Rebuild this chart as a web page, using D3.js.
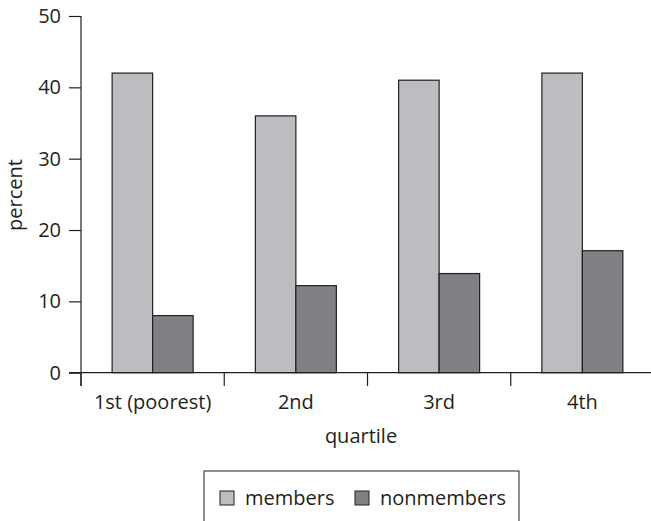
<!DOCTYPE html>
<html><head><meta charset="utf-8">
<script src="https://cdn.jsdelivr.net/npm/d3@7"></script>
<style>
body{margin:0;background:#fff;}
text{font-family:"Open Sans",sans-serif;fill:#231f20;}
</style></head>
<body><svg id="c" width="651" height="521"></svg>
<script>
const categories = ["1st (poorest)", "2nd", "3rd", "4th"];
const seriesNames = ["members", "nonmembers"];
const members = [42, 36, 41, 42];
const nonmembers = [8, 12.2, 13.9, 17.1];
const yTicks = [0, 10, 20, 30, 40, 50];
const colors = ["#bcbdc1", "#808184"];

const svg = d3.select("#c");
const ink = "#231f20";
const fs = "20px";
const x0 = d3.scaleBand().domain(categories).range([81, 654]).padding(0);
const x1 = d3.scaleBand().domain(seriesNames).range([0, 81]).padding(0);
const y = d3.scaleLinear().domain([0, 50]).range([372.7, 16]);

const data = categories.map((c, i) => ({cat: c, vals: [members[i], nonmembers[i]]}));

// bars
const g = svg.append("g");
data.forEach(d => {
  const cx = x0(d.cat) + x0.bandwidth() / 2 - 40.5;
  seriesNames.forEach((s, j) => {
    g.append("rect")
      .attr("x", cx + x1(s))
      .attr("y", y(d.vals[j]))
      .attr("width", x1.bandwidth())
      .attr("height", y(0) - y(d.vals[j]))
      .attr("fill", colors[j])
      .attr("stroke", ink).attr("stroke-width", 1.2);
  });
});

// y axis
const ya = svg.append("g").attr("transform", "translate(81,0)")
  .call(d3.axisLeft(y).tickValues(yTicks).tickSize(12).tickPadding(8).tickSizeOuter(0));
ya.select(".domain").attr("d", "M0,16V386").attr("stroke", ink).attr("stroke-width", 1.2);
ya.selectAll(".tick line").attr("stroke", ink).attr("stroke-width", 1.2);
ya.selectAll(".tick text").style("font-size", fs).attr("font-family", null);

// x axis line
svg.append("line").attr("x1", 69).attr("x2", 654).attr("y1", y(0)).attr("y2", y(0))
  .attr("stroke", ink).attr("stroke-width", 1.2);
// category boundary ticks
categories.forEach(c => {
  svg.append("line").attr("x1", x0(c)).attr("x2", x0(c)).attr("y1", y(0)).attr("y2", 386)
    .attr("stroke", ink).attr("stroke-width", 1.2);
});
// category labels
categories.forEach(c => {
  svg.append("text").attr("x", x0(c) + x0.bandwidth() / 2).attr("y", 409)
    .attr("text-anchor", "middle").style("font-size", fs).text(c);
});

// axis titles
svg.append("text").attr("x", 361).attr("y", 443).attr("text-anchor", "middle")
  .style("font-size", fs).text("quartile");
svg.append("text").attr("transform", "translate(22,195) rotate(-90)")
  .attr("text-anchor", "middle").style("font-size", fs).text("percent");

// legend
svg.append("rect").attr("x", 204).attr("y", 471).attr("width", 315).attr("height", 60)
  .attr("fill", "none").attr("stroke", ink).attr("stroke-width", 1);
const legX = [220, 355];
seriesNames.forEach((s, j) => {
  svg.append("rect").attr("x", legX[j]).attr("y", 491).attr("width", 14).attr("height", 14)
    .attr("fill", colors[j]).attr("stroke", ink).attr("stroke-width", 1);
  svg.append("text").attr("x", legX[j] + 25).attr("y", 505).style("font-size", fs).text(s);
});
</script></body></html>
